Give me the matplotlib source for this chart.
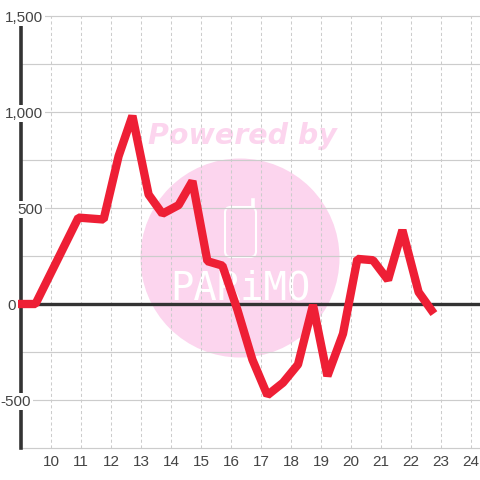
import matplotlib
matplotlib.use("Agg")
import matplotlib.pyplot as plt
from matplotlib.patches import Circle, FancyBboxPatch
from matplotlib.lines import Line2D
from matplotlib.transforms import ScaledTranslation

hours = [8.9, 9.5, 10.93, 11.77, 12.27, 12.73, 13.27, 13.73, 14.27, 14.73, 15.23, 15.73,
         16.23, 16.73, 17.23, 17.75, 18.25, 18.75, 19.23, 19.75, 20.23, 20.75, 21.25,
         21.73, 22.27, 22.78]
values = [0, 0, 450, 440, 770, 980, 570, 470, 515, 640, 223, 200,
          -30, -290, -475, -410, -315, -5, -375, -155, 235, 228, 125,
          385, 62, -50]
y_ticks = [-500, 0, 500, 1000, 1500]
y_labels = ["-500", "0", "500", "1,000", "1,500"]
y_label_right = [31, 16, 43, 43, 43]
x_ticks = list(range(10, 25))

plt.rcParams['font.family'] = ['Liberation Sans', 'DejaVu Sans']
fig = plt.figure(figsize=(4.8, 4.8), dpi=100)
ax = fig.add_axes([20.5/480, 32/480, (480-20.5)/480, 432/480])
ax.set_xlim(9, 9 + (480-20.5)/30)
ax.set_ylim(-750, 1500)
ax.patch.set_alpha(0)
for s in ax.spines.values():
    s.set_visible(False)

def px(x, y):
    return x/480, 1 - y/480
pink = '#fcd5ee'
fig.add_artist(Circle(px(240, 258), 99.5/480, transform=fig.transFigure, color=pink, lw=0, zorder=-5))
fig.text(*px(242, 136), "Powered by", color=pink, fontsize=20.5, fontweight='bold', style='italic',
         family='DejaVu Sans', ha='center', va='center', zorder=-4)
fig.add_artist(FancyBboxPatch(px(225, 257), 31/480, 50/480, boxstyle="round,pad=0,rounding_size=0.012",
                              transform=fig.transFigure, fc='none', ec='white', lw=1.5, zorder=-4))
fig.add_artist(Line2D([253.5/480, 253.5/480], [1-200/480, 1-207/480], color='white', lw=2.6, zorder=-4))
fig.text(*px(240, 288), "PARiMO", color='white', fontsize=28, family='DejaVu Sans Mono',
         ha='center', va='center', zorder=-4)

ax.set_yticks(list(range(-750, 1501, 250)))
ax.set_xticks(x_ticks)
ax.grid(axis='y', color='#cccccc', lw=0.85, ls='-', zorder=1, clip_on=False)
ax.grid(axis='x', color='#cccccc', lw=0.75, ls=(0, (3, 2.5)), zorder=1)
ax.set_axisbelow(True)
ax.tick_params(length=0, labelleft=False, labelbottom=True, labelsize=11, labelcolor='#444444', pad=5)
ax.set_xticklabels([str(v) for v in x_ticks])
shift = ScaledTranslation(0.7/100, 0, fig.dpi_scale_trans)
for t in ax.get_xticklabels():
    t.set_transform(t.get_transform() + shift)

ax.axvline(9, color='#333333', lw=2.6, zorder=2, clip_on=False)
ax.axhline(0, color='#333333', lw=2.4, zorder=2)
ax.plot(hours, values, color='#ee1f35', lw=6, solid_joinstyle='bevel',
        solid_capstyle='butt', zorder=3, clip_on=False)

for tick, lab, right in zip(y_ticks, y_labels, y_label_right):
    ypix = ax.transData.transform((9, tick))[1]
    fig.text(right/480, ypix/480 - 0.0005, lab, ha='right', va='center_baseline', fontsize=11, color='#444444',
             zorder=2.5, bbox=dict(fc='white', ec='none', pad=1.2))

fig.savefig("out.png", dpi=100)
